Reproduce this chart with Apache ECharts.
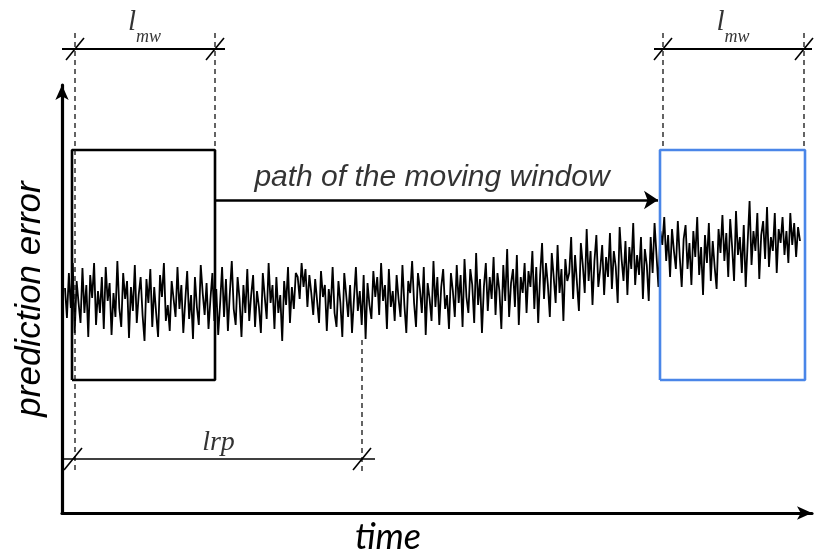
<!DOCTYPE html>
<html><head><meta charset="utf-8">
<script src="https://cdn.jsdelivr.net/npm/echarts@6/dist/echarts.min.js"></script>
<style>html,body{margin:0;padding:0;background:#fff}#c{width:815px;height:552px}</style>
</head><body><div id="c"></div>
<script>
// prediction error signal (y-axis units)
const errorValues = [
225,195,240,205,250,180,232,210,190,245,200,228,176,238,215,250,188,222,200,236,
184,246,212,230,178,220,196,252,205,186,240,214,232,175,226,202,248,190,218,236,
198,172,234,210,244,186,226,200,176,238,216,250,192,208,182,232,214,196,246,204,
228,180,212,242,194,218,174,236,206,188,248,220,198,230,184,214,240,192,224,178,
210,246,196,234,182,220,252,204,188,236,214,176,228,200,244,192,218,238,186,222,
206,180,240,216,194,250,210,228,184,236,200,218,172,232,208,246,190,226,204,240,
236,214,250,226,244,206,238,220,198,234,212,190,242,216,228,182,224,204,246,200,
186,232,210,176,240,218,196,228,180,214,246,202,222,188,238,174,230,208,194,242,
216,236,198,250,212,228,184,244,206,222,192,238,214,196,248,208,180,232,220,252,
210,186,240,224,200,246,178,230,214,192,252,206,236,188,226,244,204,218,184,240,
222,196,248,210,238,186,254,216,200,244,228,190,260,208,234,180,226,250,202,236,
214,256,198,240,222,184,248,212,264,196,230,244,206,258,188,236,220,250,200,242,
226,262,204,246,190,238,270,214,250,228,196,260,236,210,268,220,244,192,254,232,
240,276,214,258,230,202,270,248,220,284,232,262,208,252,278,226,244,268,218,256,
236,280,224,262,246,210,286,254,232,272,218,266,244,290,228,258,238,276,214,264,
248,212,276,240,290,258,226,282,268,296,252,278,236,284,262,244,292,256,226,274,
288,244,270,228,282,256,296,238,266,218,278,250,290,232,272,246,224,284,260,298,
252,280,236,294,266,232,302,258,276,240,288,226,270,312,248,282,262,300,234,278,
292,254,306,246,276,262,300,240,284,270,296,258,282,250,300,268,290,256,286,272
];
const signalStart = 3, signalEnd = 738;

// annotation geometry (axis units)
const window1 = [12, 153];      // first moving window (time)
const window2 = [600, 742];     // last moving window (time)
const windowBand = [133, 363];  // window height (error)
const pathY = 313;              // arrow "path of the moving window"
const dimY = 464;               // l_mw dimension line
const dimTop = 480;
const lrpRange = [11, 300];
const lrpY = 54;
const lrpDashBottom = 42;

const times = errorValues.map((v, i) => signalStart + i * (signalEnd - signalStart) / (errorValues.length - 1));
const signal = errorValues.map((v, i) => [times[i], v]);

function rect(x0, x1, y0, y1) { return [[x0, y0], [x1, y0], [x1, y1], [x0, y1], [x0, y0]]; }
function lineSeries(data, style) {
  return { type: 'line', data, symbol: 'none', clip: false, silent: true, animation: false,
    lineStyle: Object.assign({ color: '#000', width: 1.3 }, style), z: 5 };
}
const dash = { type: [5, 4], width: 1.3, color: '#111' };

const series = [
  lineSeries(signal, { width: 1.8 }),
  lineSeries(rect(window1[0] - 2, window1[1], windowBand[0], windowBand[1]), { width: 2.6 }),
  lineSeries(rect(window2[0] - 2, window2[1] + 1, windowBand[0], windowBand[1]), { width: 2.6, color: '#4a86e8' }),
  // dashed guide lines
  lineSeries([[window1[0] + 1, dimTop], [window1[0] + 1, lrpDashBottom]], dash),
  lineSeries([[window1[1], dimTop], [window1[1], windowBand[1]]], dash),
  lineSeries([[window2[0] + 1, dimTop], [window2[0] + 1, windowBand[1]]], dash),
  lineSeries([[window2[1], dimTop], [window2[1], windowBand[1]]], dash),
  lineSeries([[lrpRange[1], 173], [lrpRange[1], lrpDashBottom]], dash),
  // dimension lines
  lineSeries([[window1[0] - 12, dimY], [window1[1] + 10, dimY]], { width: 2 }),
  lineSeries([[window2[0] - 8, dimY], [window2[1] + 8, dimY]], { width: 2 }),
  lineSeries([[0, lrpY], [lrpRange[1] + 13, lrpY]], { width: 1.5 }),
];
// slash ticks
const ticks = [[window1[0] + 1, dimY], [window1[1], dimY], [window2[0] + 1, dimY], [window2[1], dimY], [lrpRange[0], lrpY], [lrpRange[1], lrpY]];
ticks.forEach(([x, y]) => series.push(lineSeries([[x - 9, y - 11], [x + 9, y + 11]], { width: 1.6 })));

// arrow
series.push({
  type: 'lines', coordinateSystem: 'cartesian2d', silent: true, animation: false, z: 6,
  symbol: ['none', 'arrow'], symbolSize: [10, 14],
  lineStyle: { color: '#000', width: 2.5, opacity: 1, curveness: 0 },
  data: [{ coords: [[window1[1], pathY], [window2[0] - 4, pathY]] }]
});

// text labels
const lmwRich = {
  l: { fontFamily: 'Liberation Serif', fontStyle: 'italic', fontSize: 29, color: '#000', padding: [0, 0, 10, 0] },
  s: { fontFamily: 'Liberation Serif', fontStyle: 'italic', fontSize: 18, color: '#000', verticalAlign: 'bottom' }
};
function textPoint(pos, formatter, extra) {
  return { value: pos, label: Object.assign({ show: true, formatter, position: 'inside', color: '#000' }, extra) };
}
series.push({
  type: 'scatter', symbolSize: 0, clip: false, silent: true, animation: false, z: 10,
  itemStyle: { color: '#000' },
  label: { show: true, color: '#000' },
  data: [
    textPoint([(window1[0] + window1[1]) / 2, dimY + 22], '{l|l}{s|mw}', { rich: lmwRich }),
    textPoint([(window2[0] + window2[1]) / 2, dimY + 22], '{l|l}{s|mw}', { rich: lmwRich }),
    textPoint([(lrpRange[0] + lrpRange[1]) / 2 + 1, lrpY + 16], 'lrp', { fontFamily: 'Liberation Serif', fontStyle: 'italic', fontSize: 28 }),
    textPoint([370, pathY + 22], 'path of the moving window', { fontFamily: 'Liberation Sans', fontStyle: 'italic', fontSize: 30 })
  ]
});

const chart = echarts.init(document.getElementById('c'), null, { renderer: 'canvas' });
chart.setOption({
  animation: false,
  grid: { left: 62, right: 3, top: 85, bottom: 39, containLabel: false, outerBoundsMode: 'none' },
  xAxis: {
    type: 'value', min: 0, max: 750,
    axisLine: { show: true, symbol: ['none', 'arrow'], symbolSize: [10, 15], lineStyle: { color: '#000', width: 3.2 } },
    axisTick: { show: false }, axisLabel: { show: false }, splitLine: { show: false },
    name: 'time', nameLocation: 'middle', nameGap: 6,
    nameTextStyle: { fontFamily: 'Lato', fontStyle: 'italic', fontSize: 36, color: '#000', padding: [0, 98, 0, 0], verticalAlign: 'top' }
  },
  yAxis: {
    type: 'value', min: 0, max: 428,
    axisLine: { show: true, symbol: ['none', 'arrow'], symbolSize: [10, 15], lineStyle: { color: '#000', width: 3.2 } },
    axisTick: { show: false }, axisLabel: { show: false }, splitLine: { show: false },
    name: 'prediction error', nameLocation: 'middle', nameGap: 14,
    nameTextStyle: { fontFamily: 'Liberation Sans', fontStyle: 'italic', fontSize: 35, color: '#000' }
  },
  series
});
</script></body></html>
